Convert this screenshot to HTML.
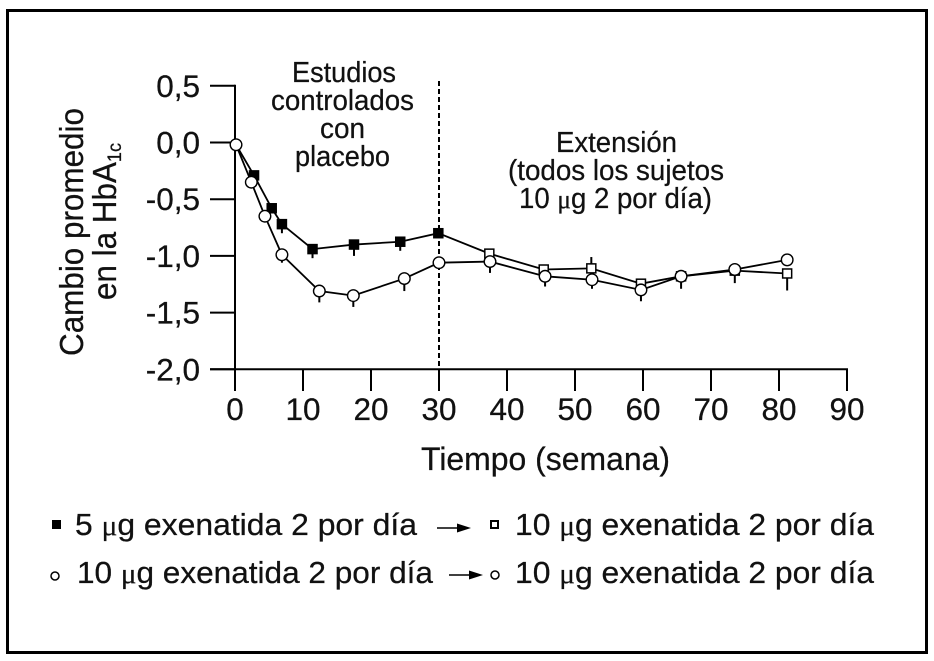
<!DOCTYPE html>
<html lang="es">
<head>
<meta charset="utf-8">
<title>Cambio promedio en la HbA1c</title>
<style>
html,body{margin:0;padding:0;background:#fff;width:934px;height:661px;overflow:hidden}
svg{display:block}
text{font-family:"Liberation Sans",sans-serif;fill:#111;stroke:#111;stroke-width:.25}
.m{font-family:"Liberation Serif",serif;font-size:.92em}
</style>
</head>
<body>
<svg id="chart" xmlns="http://www.w3.org/2000/svg" width="934" height="661" viewBox="0 0 934 661">
<rect x="7.5" y="10.5" width="919" height="642" fill="#fff" stroke="#000" stroke-width="3"/>
<g id="axes"></g>
<line x1="439" y1="81" x2="439" y2="369" stroke="#000" stroke-width="2" stroke-dasharray="5 3"/>
<g id="marks"></g>

<g font-size="33">
<text transform="translate(83,356) rotate(-90)" textLength="248" lengthAdjust="spacingAndGlyphs">Cambio promedio</text>
<text transform="translate(116,300) rotate(-90)" textLength="157" lengthAdjust="spacingAndGlyphs">en la HbA<tspan font-size="19" dy="5">1c</tspan></text>
</g>
<text x="421" y="470" font-size="32" textLength="249" lengthAdjust="spacingAndGlyphs">Tiempo (semana)</text>

<g font-size="29">
<text x="292" y="82" textLength="104" lengthAdjust="spacingAndGlyphs">Estudios</text>
<text x="271" y="110" textLength="143" lengthAdjust="spacingAndGlyphs">controlados</text>
<text x="320" y="138" textLength="45" lengthAdjust="spacingAndGlyphs">con</text>
<text x="295" y="166" textLength="95" lengthAdjust="spacingAndGlyphs">placebo</text>
</g>
<g font-size="29">
<text x="556" y="152" textLength="121" lengthAdjust="spacingAndGlyphs">Extensión</text>
<text x="508" y="180" textLength="216" lengthAdjust="spacingAndGlyphs">(todos los sujetos</text>
<text x="519" y="208" textLength="193" lengthAdjust="spacingAndGlyphs">10 <tspan class="m">μ</tspan>g 2 por día)</text>
</g>

<g font-size="31">
<rect x="52" y="520" width="9" height="9" fill="#000"/>
<text x="75" y="535" textLength="342" lengthAdjust="spacingAndGlyphs">5 <tspan class="m">μ</tspan>g exenatida 2 por día</text>
<line x1="437" y1="528" x2="460" y2="528" stroke="#000" stroke-width="1.5"/>
<polygon points="457,523.5 471,528 457,532.5" fill="#000"/>
<rect x="491" y="521" width="7" height="7" fill="#fff" stroke="#000" stroke-width="2"/>
<text x="515" y="535" textLength="359" lengthAdjust="spacingAndGlyphs">10 <tspan class="m">μ</tspan>g exenatida 2 por día</text>

<circle cx="55" cy="576" r="4" fill="#fff" stroke="#000" stroke-width="1.5"/>
<text x="77" y="583" textLength="356" lengthAdjust="spacingAndGlyphs">10 <tspan class="m">μ</tspan>g exenatida 2 por día</text>
<line x1="449" y1="575" x2="472" y2="575" stroke="#000" stroke-width="1.5"/>
<polygon points="469,570.5 483,575 469,579.5" fill="#000"/>
<circle cx="495" cy="575" r="4" fill="#fff" stroke="#000" stroke-width="1.5"/>
<text x="515" y="583" textLength="359" lengthAdjust="spacingAndGlyphs">10 <tspan class="m">μ</tspan>g exenatida 2 por día</text>
</g>
</svg>
<script>
var xTicks = [0, 10, 20, 30, 40, 50, 60, 70, 80, 90];
var yTicks = [0.5, 0, -0.5, -1, -1.5, -2];
var yTickLabels = ["0,5", "0,0", "-0,5", "-1,0", "-1,5", "-2,0"];

var squareWeeks = [2.8, 5.4, 6.9, 11.4, 17.5, 24.3, 29.9, 37.4, 45.4, 52.4, 59.7, 65.6, 73.5, 81.2];
var squareChange = [-0.29, -0.58, -0.72, -0.94, -0.9, -0.875, -0.8, -0.98, -1.12, -1.11, -1.245, -1.18, -1.13, -1.155];
var squareErrDown = [0, 0, 0.08, 0.08, 0.1, 0.08, 0, 0, 0, 0, 0, 0, 0, 0.15];
var squareErrUp = [0, 0, 0, 0, 0, 0, 0, 0, 0.01, 0.1, 0, 0, 0, 0];
var squareFilled = [1, 1, 1, 1, 1, 1, 1, 0, 0, 0, 0, 0, 0, 0];

var circleWeeks = [0.15, 2.4, 4.4, 6.9, 12.4, 17.4, 24.9, 30, 37.5, 45.6, 52.5, 59.7, 65.6, 73.5, 81.2];
var circleChange = [-0.02, -0.35, -0.65, -0.99, -1.31, -1.35, -1.2, -1.06, -1.05, -1.18, -1.21, -1.3, -1.18, -1.12, -1.035];
var circleErrDown = [0, 0, 0, 0.07, 0.1, 0.1, 0.11, 0, 0.1, 0.09, 0.08, 0.1, 0.11, 0.12, 0];

var NS = "http://www.w3.org/2000/svg";
function xPos(v) { return 235 + v * 6.8; }
function yPos(v) { return 142.5 - v * 113.4; }
function add(parent, tag, attrs) {
  var el = document.createElementNS(NS, tag);
  for (var k in attrs) { el.setAttribute(k, attrs[k]); }
  parent.appendChild(el);
  return el;
}
var axes = document.getElementById("axes");
var marks = document.getElementById("marks");

var yAxis = add(axes, "line", { x1: 235, y1: yPos(0.5) - 1, x2: 235, y2: 391, stroke: "#000", "stroke-width": 2 });


var xAxis = add(axes, "line", { x1: 210, y1: yPos(-2), x2: xPos(90) + 1, y2: yPos(-2), stroke: "#000", "stroke-width": 2 });



yTicks.forEach(function (t, i) {
  var tick = add(axes, "line", { x1: 210, y1: yPos(t), x2: 235, y2: yPos(t), stroke: "#000", "stroke-width": 2 });
  
  
  var label = add(axes, "text", { x: 200, y: yPos(t) + 11, "text-anchor": "end", "font-size": 31.5 });
  
  
  label.textContent = yTickLabels[i];
});
xTicks.forEach(function (t) {
  var tick = add(axes, "line", { x1: xPos(t), y1: yPos(-2), x2: xPos(t), y2: 391, stroke: "#000", "stroke-width": 2 });
  
  
  var label = add(axes, "text", { x: xPos(t), y: 420, "text-anchor": "middle", "font-size": 31.5 });
  
  
  label.textContent = String(t);
});

function pointsOf(xs, ys) {
  return xs.map(function (x, i) { return xPos(x) + "," + yPos(ys[i]); }).join(" ");
}

var squareLine = add(marks, "polyline", { points: xPos(circleWeeks[0]) + "," + yPos(circleChange[0]) + " " + pointsOf(squareWeeks, squareChange), fill: "none", stroke: "#000", "stroke-width": 1.8 });


var circleLine = add(marks, "polyline", { points: pointsOf(circleWeeks, circleChange), fill: "none", stroke: "#000", "stroke-width": 1.8 });



squareWeeks.forEach(function (w, i) {
  var lo = squareChange[i] - squareErrDown[i];
  var hi = squareChange[i] + squareErrUp[i];
  if (squareErrDown[i] || squareErrUp[i]) {
    var bar = add(marks, "line", { x1: xPos(w), y1: yPos(hi), x2: xPos(w), y2: yPos(lo), stroke: "#000", "stroke-width": 2 });
    
    
  }
  var sq = add(marks, "rect", { x: xPos(w) - 4.5, y: yPos(squareChange[i]) - 4.5, width: 9, height: 9, fill: squareFilled[i] ? "#000" : "#fff", stroke: "#000", "stroke-width": 1.5 });
  
  
});
circleWeeks.forEach(function (w, i) {
  if (circleErrDown[i]) {
    var bar = add(marks, "line", { x1: xPos(w), y1: yPos(circleChange[i]), x2: xPos(w), y2: yPos(circleChange[i] - circleErrDown[i]), stroke: "#000", "stroke-width": 2 });
    
    
  }
  var c = add(marks, "circle", { cx: xPos(w), cy: yPos(circleChange[i]), r: 5.8, fill: "#fff", stroke: "#000", "stroke-width": 1.4 });
  
  
});
</script>
</body>
</html>
